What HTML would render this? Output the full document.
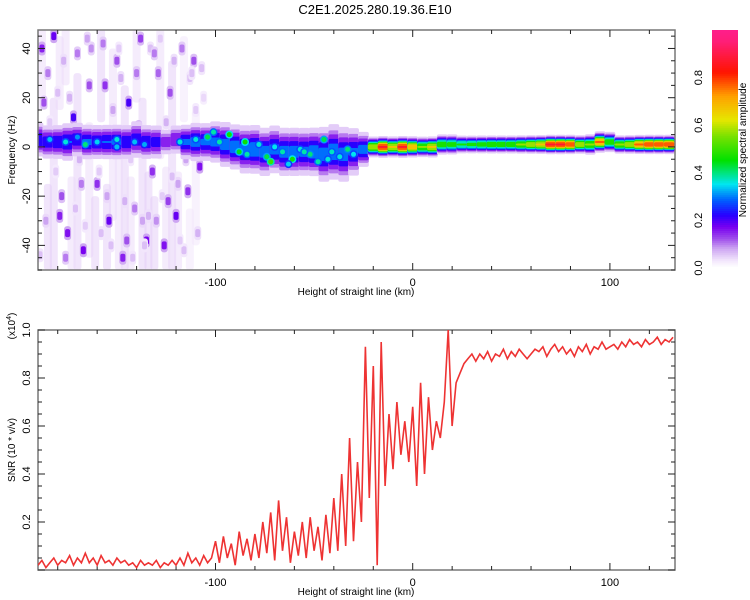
<!DOCTYPE html>
<html><head><meta charset="utf-8"><style>
html,body{margin:0;padding:0;background:#fff;}
svg{display:block;font-family:"Liberation Sans",sans-serif;}
</style></head><body>
<svg id="chart" width="750" height="600" xmlns="http://www.w3.org/2000/svg">
<text x="375" y="14" font-size="13" text-anchor="middle">C2E1.2025.280.19.36.E10</text>
<g id="topPanel"></g>
<g id="cbar"></g>
<g id="botPanel"></g>
</svg>
<script>
// ---------- data ----------
const xDomain = [-190, 133];
const freqDomain = [-50, 47.5];
const snrDomain = [0, 1];
const xTickLabels = [-100, 0, 100];
const freqTickLabels = [-40, -20, 0, 20, 40];
const snrTickLabels = ["0.2", "0.4", "0.6", "0.8", "1.0"];
const cbarTickLabels = ["0.0", "0.2", "0.4", "0.6", "0.8"];

const bandStartKm = -190, bandStepKm = 5;
const bandCenter = [3,2,2,2,3,2,2,2,2,2,3,2,2, 2,3,2,2,2,2,1, 0,-1,-1,-2,-1,-2,-2, -2,-2,-3,-2,-3,-2,-1, 0,0,0,0,0,0,0, 1,1,1,1,1,1,1, 1,1,1,1,1,1,1, 1,1,2,2,1,1,1, 1,1,1];
const bandHalf = [5,5,5,5.5,5,5,5,5,5,5,5.5,5,5, 4,4.5,5,5.5,5.5,6,6.5, 6.5,7,7,7,7,7,7, 7,7,8,8,8,7,5, 2.5,2.5,2.5,2.5,2.5,2.5,2.5, 2.5,2.5,2.2,2.2,2.2,2.2,2.2, 2.2,2.2,2.2,2.2,2.2,2.2,2.2, 2.2,2.5,2.5,2.5,2.2,2.2,2.2, 2.2,2.2,2.2];
const bandAmp = [0.26,0.24,0.25,0.27,0.25,0.28,0.26,0.27,0.28,0.25,0.24,0.25,0.23, 0.16,0.18,0.28,0.3,0.28,0.29,0.3, 0.31,0.3,0.32,0.3,0.29,0.3,0.3, 0.29,0.31,0.3,0.32,0.3,0.28,0.3, 0.6,0.85,0.65,0.85,0.7,0.55,0.65, 0.5,0.48,0.45,0.46,0.48,0.5,0.5, 0.5,0.55,0.6,0.65,0.85,0.85,0.8, 0.6,0.55,0.75,0.5,0.55,0.6,0.75, 0.8,0.8,0.8];

const spotKm = [-184,-176,-166,-160,-150,-141,-136,-110,-104,-98,-93,-88,-84,-78,-74,-70,-66,-61,-57,-52,-48,-45,-41,-37,-33,-30,-85,-72,-63,-55,-43,-150,-170,-118,-101];
const spotHz = [3,2,1,2,3,2,1,3,4,2,5,-2,-3,1,-4,0,-2,-5,-1,-3,-6,3,-2,-4,-1,-3,2,-6,-7,-2,-5,0,4,2,6];
const spotAmp = [0.33,0.36,0.4,0.34,0.36,0.33,0.32,0.36,0.42,0.38,0.46,0.44,0.38,0.36,0.42,0.35,0.38,0.47,0.36,0.4,0.38,0.42,0.37,0.36,0.4,0.35,0.46,0.5,0.34,0.38,0.36,0.33,0.31,0.36,0.38];

const noiseKm = [-188,-185,-182,-178,-175,-172,-170,-167,-164,-160,-157,-154,-150,-147,-144,-141,-138,-135,-132,-129,-126,-123,-120,-117,-114,-111,-108,-186,-180,-176,-169,-163,-158,-152,-146,-140,-136,-130,-125,-119,-113,-109,-184,-177,-171,-165,-159,-153,-148,-143,-137,-133,-127,-121,-116,-110,-189,-181,-174,-166,-161,-155,-149,-142,-134,-128,-122,-118,-112,-106,-187,-179,-168,-156,-145,-139,-131,-124,-115,-107];
const noiseHz = [40,30,45,-20,-35,12,38,-42,25,-15,42,-30,35,-45,18,-25,44,-38,-10,30,-40,22,-28,40,-18,35,-8,-30,22,-45,-5,40,-35,15,-22,30,-40,-30,10,-15,28,-35,10,35,-25,44,-10,-40,28,-5,-30,40,-20,35,-42,15,-44,-10,20,-32,5,-20,40,-45,-28,44,-12,-38,30,20,18,-28,-15,25,-38,8,38,-22,-5,32];
const noiseAmp = [0.15,0.1,0.18,0.12,0.16,0.2,0.1,0.17,0.12,0.14,0.1,0.18,0.12,0.15,0.2,0.1,0.13,0.17,0.14,0.11,0.16,0.12,0.18,0.1,0.14,0.12,0.16,0.08,0.06,0.1,0.07,0.09,0.06,0.08,0.07,0.1,0.06,0.09,0.07,0.08,0.06,0.07,0.05,0.07,0.06,0.08,0.05,0.06,0.07,0.05,0.08,0.06,0.05,0.07,0.06,0.05,0.06,0.05,0.07,0.05,0.06,0.08,0.05,0.06,0.07,0.05,0.06,0.05,0.06,0.04,0.12,0.15,0.1,0.14,0.12,0.16,0.1,0.13,0.08,0.06];

// faint vertical haze streaks in the noisy region: km, top Hz, bottom Hz, amplitude
const hazeKm = [-188,-182,-176,-170,-164,-158,-152,-146,-140,-134,-128,-122,-116,-110,-185,-173,-161,-149,-137,-125,-113,-179,-155,-143,-131,-119];
const hazeTop = [48,20,48,30,10,48,40,25,48,-10,48,35,45,15,-15,-12,-20,5,20,-8,-25,45,-15,-12,-20,-10];
const hazeBot = [15,-50,25,-50,-45,10,-30,-50,18,-50,-5,-50,10,-40,-50,-50,-50,-50,-50,-50,-50,15,-50,-50,-50,-50];
const hazeAmp = [0.04,0.05,0.04,0.05,0.04,0.05,0.04,0.05,0.04,0.05,0.04,0.05,0.03,0.03,0.05,0.04,0.05,0.04,0.05,0.04,0.03,0.04,0.05,0.04,0.05,0.04];

const snrStartKm = -190, snrStepKm = 2;
const snrValues = [0.02,0.04,0.01,0.03,0.05,0.02,0.04,0.03,0.06,0.02,0.05,0.03,0.07,0.03,0.05,0.02,0.06,0.03,0.04,0.02,0.05,0.03,0.04,0.02,0.03,0.01,0.04,0.02,0.03,0.02,0.04,0.01,0.03,0.02,0.04,
0.02,0.05,0.02,0.07,0.03,0.05,0.02,0.06,0.03,0.05,
0.12,0.03,0.14,0.05,0.11,0.02,0.16,0.06,0.13,0.04,
0.15,0.05,0.2,0.07,0.24,0.04,0.29,0.08,0.22,0.03,
0.16,0.06,0.2,0.05,0.22,0.08,0.18,0.04,0.23,0.07,
0.3,0.08,0.4,0.1,0.55,0.12,0.45,0.2,0.93,0.3,
0.85,0.02,0.95,0.35,0.65,0.42,0.7,0.48,0.62,0.45,
0.68,0.35,0.78,0.4,0.72,0.5,0.62,0.55,0.7,1.0,
0.6,0.78,0.82,0.86,0.88,0.9,0.87,0.9,0.88,0.91,
0.87,0.9,0.89,0.92,0.88,0.91,0.89,0.92,0.9,0.88,
0.9,0.92,0.91,0.93,0.89,0.92,0.94,0.91,0.93,0.9,
0.92,0.89,0.93,0.91,0.94,0.9,0.93,0.92,0.95,0.92,
0.93,0.94,0.92,0.95,0.93,0.96,0.94,0.95,0.93,0.96,0.94,0.95,0.97,0.94,0.96,0.95,0.97];

// ---------- helpers ----------
const NS = "http://www.w3.org/2000/svg";
const L = 38, R = 675;
const topT = 30, topB = 270, botT = 330, botB = 570;
const xs = v => L + (v - xDomain[0]) / (xDomain[1] - xDomain[0]) * (R - L);
const fy = v => topB - (v - freqDomain[0]) / (freqDomain[1] - freqDomain[0]) * (topB - topT);
const sy = v => botB - (v - snrDomain[0]) / (snrDomain[1] - snrDomain[0]) * (botB - botT);
function mk(tag, attrs, parent) { const e = document.createElementNS(NS, tag); for (const k in attrs) e.setAttribute(k, attrs[k]); parent.appendChild(e); return e; }
const stops = [[0,[255,255,255]],[0.03,[242,230,252]],[0.08,[205,165,242]],[0.12,[160,80,235]],[0.17,[120,0,240]],[0.22,[40,0,255]],[0.28,[0,90,255]],[0.35,[0,230,240]],[0.45,[0,225,0]],[0.55,[120,225,0]],[0.62,[230,230,0]],[0.72,[255,160,0]],[0.82,[255,20,0]],[0.95,[255,30,120]],[1,[255,30,140]]];
function cmap(v) {
  for (let i = 1; i < stops.length; i++) if (v <= stops[i][0]) {
    const a = stops[i-1], b = stops[i], t = (v - a[0]) / (b[0] - a[0]);
    const c = a[1].map((x, j) => Math.round(x + (b[1][j] - x) * t));
    return `rgb(${c[0]},${c[1]},${c[2]})`;
  }
  return "rgb(255,30,140)";
}

// ---------- top panel ----------
const topG = document.getElementById("topPanel");
const botG = document.getElementById("botPanel");
const clipT = mk("clipPath", {id: "ct"}, topG);
mk("rect", {x: L, y: topT, width: R - L, height: topB - topT}, clipT);
const heat = mk("g", {"clip-path": "url(#ct)"}, topG);


hazeKm.forEach((k, i) => {
  const r = mk("rect", {x: xs(k) - 4, y: fy(hazeTop[i]), width: 8, height: fy(hazeBot[i]) - fy(hazeTop[i]), rx: 3, fill: cmap(hazeAmp[i]), opacity: 0.5}, heat);
  
  
});
noiseKm.forEach((k, i) => {
  if (noiseHz[i] === undefined || noiseAmp[i] === undefined) return;
  const a = noiseAmp[i];
  const h = mk("rect", {x: xs(k) - 3.5, y: fy(noiseHz[i]) - 7, width: 7, height: 14, rx: 3, fill: cmap(Math.min(0.08, a * 0.5))}, heat);
  
  
  const r = mk("rect", {x: xs(k) - 2.5, y: fy(noiseHz[i]) - 4, width: 5, height: 8, rx: 2, fill: cmap(a)}, heat);
  
  
});
const levels = [0.03,0.08,0.13,0.2,0.27,0.35,0.45,0.55,0.65,0.75,0.85];
const bw = xs(bandStartKm + bandStepKm) - xs(bandStartKm);
bandAmp.forEach((amp, i) => {
  const k = bandStartKm + i * bandStepKm;
  const sig = bandHalf[i] / 1.6;
  levels.forEach(v => {
    if (v > amp) return;
    const d = sig * Math.sqrt(2 * Math.log(amp / v)) + 0.4;
    const y1 = fy(bandCenter[i] + d), y2 = fy(bandCenter[i] - d);
    const r = mk("rect", {x: xs(k) - bw / 2 - 0.5, y: y1, width: bw + 1, height: Math.max(1, y2 - y1), rx: 2, fill: cmap(v + 0.02)}, heat);
    
    
  });
});
spotKm.forEach((k, i) => {
  const a = spotAmp[i];
  const o = mk("ellipse", {cx: xs(k), cy: fy(spotHz[i]), rx: 4, ry: 4, fill: cmap(a * 0.75)}, heat);
  
  
  const c = mk("ellipse", {cx: xs(k), cy: fy(spotHz[i]), rx: 2.5, ry: 2.5, fill: cmap(a)}, heat);
  
  
});
function frame(parent, t, b, yMap, minorStep, yMin, yMax) {
  const g = mk("g", {}, parent);
  mk("rect", {x: L, y: t, width: R - L, height: b - t, fill: "none", stroke: "#777", "stroke-width": 1.5}, g);
  for (let v = -180; v <= 130; v += 20) {
    const x = xs(v), len = (v % 100 === 0) ? 7 : 4;
    mk("line", {x1: x, x2: x, y1: t, y2: t + len, stroke: "#222"}, g);
    mk("line", {x1: x, x2: x, y1: b, y2: b - len, stroke: "#222"}, g);
  }
  for (let v = yMin; v <= yMax + 1e-9; v += minorStep) {
    const y = yMap(v), major = Math.abs(Math.round(v / (minorStep * 4)) * minorStep * 4 - v) < 1e-6;
    const len = major ? 7 : 4;
    mk("line", {x1: L, x2: L + len, y1: y, y2: y, stroke: "#222"}, g);
    mk("line", {x1: R, x2: R - len, y1: y, y2: y, stroke: "#222"}, g);
  }
  xTickLabels.forEach(v => {
    const tx = mk("text", {x: xs(v), y: b + 16, "font-size": 11, "text-anchor": "middle"}, g);
    tx.textContent = v;
    
    
  });
  const xt = mk("text", {x: 356, y: b + 25, "font-size": 10, "text-anchor": "middle"}, g);
  xt.textContent = "Height of straight line (km)";
  
  
}
frame(topG, topT, topB, fy, 5, -50, 45);
freqTickLabels.forEach(v => {
  const tx = mk("text", {transform: `translate(30,${fy(v)}) rotate(-90)`, "font-size": 11, "text-anchor": "middle"}, topG);
  tx.textContent = v;
  
  
});
const yt = mk("text", {transform: `translate(15,150) rotate(-90)`, "font-size": 10, "text-anchor": "middle"}, topG);
yt.textContent = "Frequency (Hz)";



// ---------- colorbar ----------
const cb = document.getElementById("cbar");
const cbT = 30, cbB = 268;
for (let i = 0; i < 120; i++) {
  const v = i / 120;
  const r = mk("rect", {x: 712, y: cbB - (i + 1) / 120 * (cbB - cbT), width: 26, height: (cbB - cbT) / 120 + 0.6, fill: cmap(v)}, cb);
  
  
}
cbarTickLabels.forEach((s, i) => {
  const y = cbB - (i * 0.2) * (cbB - cbT);
  const tx = mk("text", {transform: `translate(702,${y}) rotate(-90)`, "font-size": 11, "text-anchor": "middle"}, cb);
  tx.textContent = s;
  
  
});
const ct = mk("text", {transform: `translate(746,150) rotate(-90)`, "font-size": 10, "text-anchor": "middle"}, cb);
ct.textContent = "Normalized spectral amplitude";



// ---------- bottom panel ----------
frame(botG, botT, botB, sy, 0.05, 0, 1);
snrTickLabels.forEach(s => {
  const tx = mk("text", {transform: `translate(30,${sy(parseFloat(s))}) rotate(-90)`, "font-size": 11, "text-anchor": "middle"}, botG);
  tx.textContent = s;
  
  
});
const st = mk("text", {transform: `translate(15,450) rotate(-90)`, "font-size": 10, "text-anchor": "middle"}, botG);
st.textContent = "SNR (10 * v/v)";


const sc = mk("text", {transform: `translate(15,326) rotate(-90)`, "font-size": 10, "text-anchor": "middle"}, botG);
const t1 = mk("tspan", {}, sc); t1.textContent = "(x10";
const t2 = mk("tspan", {dy: -4, "font-size": 7}, sc); t2.textContent = "4";
const t3 = mk("tspan", {dy: 4}, sc); t3.textContent = ")";


const clipB = mk("clipPath", {id: "cb2"}, botG);
mk("rect", {x: L, y: botT, width: R - L, height: botB - botT}, clipB);
let d = "";
snrValues.forEach((v, i) => { d += (i ? "L" : "M") + xs(snrStartKm + i * snrStepKm).toFixed(1) + "," + sy(v).toFixed(1); });
const line = mk("path", {d: d, fill: "none", stroke: "#ee3333", "stroke-width": 1.6, "clip-path": "url(#cb2)"}, botG);


</script>
</body></html>
